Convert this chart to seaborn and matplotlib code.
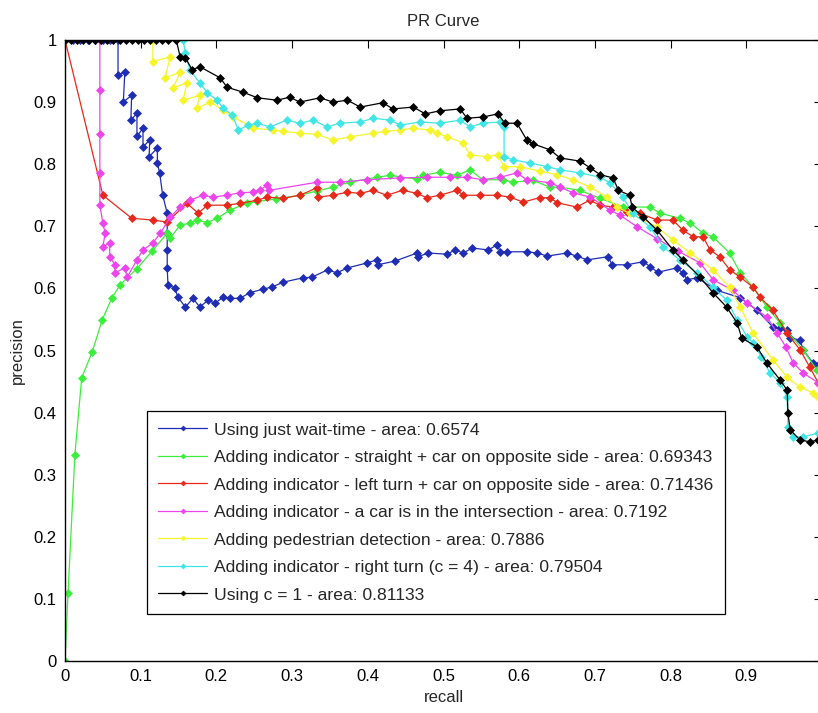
import matplotlib
matplotlib.use("Agg")
import matplotlib.pyplot as plt
import seaborn as sns

# (recall, precision) points
wait_time = [
    (0, 1), (0.01, 1), (0.02, 1), (0.03, 1), (0.04, 1), (0.05, 1), (0.06, 1), (0.07, 1),
    (0.070, 0.944), (0.079, 0.948), (0.077, 0.900), (0.088, 0.911), (0.087, 0.871),
    (0.095, 0.882), (0.095, 0.845), (0.103, 0.858), (0.103, 0.828), (0.112, 0.839),
    (0.111, 0.812), (0.122, 0.826), (0.122, 0.802), (0.125, 0.786), (0.129, 0.750),
    (0.135, 0.721), (0.135, 0.689), (0.135, 0.662), (0.135, 0.633), (0.136, 0.605),
    (0.145, 0.601), (0.149, 0.586), (0.159, 0.570), (0.169, 0.584), (0.178, 0.570),
    (0.189, 0.581), (0.198, 0.576), (0.209, 0.586), (0.218, 0.584), (0.231, 0.584),
    (0.244, 0.593), (0.262, 0.599), (0.273, 0.602), (0.288, 0.610), (0.314, 0.617),
    (0.326, 0.618), (0.347, 0.630), (0.359, 0.625), (0.373, 0.633), (0.399, 0.641),
    (0.412, 0.646), (0.413, 0.638), (0.436, 0.644), (0.465, 0.657), (0.466, 0.651),
    (0.480, 0.657), (0.505, 0.655), (0.515, 0.662), (0.526, 0.657), (0.538, 0.665),
    (0.559, 0.662), (0.571, 0.670), (0.575, 0.659), (0.584, 0.659), (0.610, 0.659),
    (0.624, 0.657), (0.637, 0.652), (0.663, 0.657), (0.676, 0.652), (0.690, 0.646),
    (0.717, 0.651), (0.723, 0.638), (0.742, 0.638), (0.764, 0.643), (0.773, 0.635),
    (0.783, 0.626), (0.808, 0.633), (0.816, 0.625), (0.822, 0.614), (0.835, 0.617),
    (0.861, 0.597), (0.892, 0.585), (0.914, 0.565), (0.935, 0.538), (0.945, 0.536),
    (0.954, 0.533), (0.958, 0.520), (0.971, 0.517), (0.975, 0.501), (0.988, 0.480),
    (0.995, 0.477),
]

straight = [
    (0, 0), (0.004, 0.11), (0.013, 0.332), (0.022, 0.456), (0.036, 0.498), (0.049, 0.549),
    (0.062, 0.585), (0.073, 0.606), (0.095, 0.632), (0.115, 0.660), (0.135, 0.689),
    (0.139, 0.681), (0.152, 0.702), (0.165, 0.705), (0.174, 0.710), (0.188, 0.706),
    (0.201, 0.713), (0.218, 0.726), (0.240, 0.737), (0.254, 0.740), (0.279, 0.744),
    (0.310, 0.750), (0.333, 0.757), (0.354, 0.763), (0.376, 0.771), (0.412, 0.779),
    (0.429, 0.782), (0.465, 0.776), (0.473, 0.782), (0.495, 0.787), (0.518, 0.782),
    (0.535, 0.791), (0.552, 0.775), (0.579, 0.775), (0.592, 0.771), (0.618, 0.774),
    (0.641, 0.763), (0.654, 0.763), (0.680, 0.758), (0.707, 0.745), (0.737, 0.731),
    (0.773, 0.731), (0.786, 0.721), (0.812, 0.713), (0.826, 0.705), (0.843, 0.689),
    (0.856, 0.683), (0.878, 0.657), (0.892, 0.625), (0.909, 0.602), (0.927, 0.570),
    (0.945, 0.544), (0.975, 0.501), (0.993, 0.469),
]

left_turn = [
    (0, 1), (0.050, 0.750), (0.088, 0.713), (0.116, 0.710), (0.135, 0.707), (0.161, 0.737),
    (0.176, 0.721), (0.188, 0.734), (0.214, 0.734), (0.231, 0.737), (0.254, 0.742),
    (0.267, 0.747), (0.288, 0.745), (0.310, 0.750), (0.333, 0.762), (0.334, 0.747),
    (0.354, 0.750), (0.373, 0.755), (0.390, 0.753), (0.407, 0.758), (0.425, 0.750),
    (0.446, 0.758), (0.465, 0.753), (0.478, 0.746), (0.495, 0.750), (0.518, 0.758),
    (0.526, 0.750), (0.548, 0.750), (0.571, 0.750), (0.588, 0.747), (0.605, 0.739),
    (0.627, 0.746), (0.641, 0.746), (0.650, 0.738), (0.676, 0.731), (0.693, 0.742),
    (0.707, 0.734), (0.724, 0.731), (0.742, 0.723), (0.760, 0.721), (0.782, 0.710),
    (0.803, 0.710), (0.816, 0.694), (0.830, 0.683), (0.843, 0.683), (0.852, 0.662),
    (0.865, 0.651), (0.878, 0.630), (0.892, 0.618), (0.909, 0.602), (0.918, 0.586),
    (0.935, 0.565), (0.954, 0.528), (0.971, 0.501), (0.984, 0.473), (0.995, 0.448),
]

intersection = [
    (0, 1), (0.046, 1.0), (0.046, 0.919), (0.046, 0.848), (0.046, 0.786), (0.046, 0.734),
    (0.050, 0.705), (0.053, 0.689), (0.050, 0.667), (0.059, 0.673), (0.059, 0.651),
    (0.066, 0.638), (0.066, 0.625), (0.079, 0.633), (0.082, 0.618), (0.095, 0.646),
    (0.103, 0.662), (0.116, 0.673), (0.126, 0.689), (0.139, 0.715), (0.152, 0.731),
    (0.165, 0.742), (0.182, 0.750), (0.195, 0.747), (0.214, 0.750), (0.231, 0.754),
    (0.248, 0.755), (0.258, 0.758), (0.267, 0.767), (0.270, 0.758), (0.333, 0.771),
    (0.363, 0.771), (0.399, 0.775), (0.443, 0.778), (0.478, 0.779), (0.509, 0.779),
    (0.531, 0.779), (0.552, 0.775), (0.575, 0.779), (0.597, 0.786), (0.610, 0.775),
    (0.641, 0.770), (0.654, 0.763), (0.671, 0.754), (0.694, 0.747), (0.720, 0.726),
    (0.733, 0.718), (0.756, 0.699), (0.782, 0.680), (0.810, 0.660), (0.839, 0.641),
    (0.856, 0.614), (0.882, 0.597), (0.901, 0.576), (0.927, 0.554), (0.941, 0.528),
    (0.952, 0.506), (0.962, 0.480), (0.975, 0.464), (0.995, 0.448),
]

pedestrian = [
    (0, 1), (0.116, 1.0), (0.116, 0.965), (0.139, 0.973), (0.132, 0.939), (0.152, 0.948),
    (0.143, 0.923), (0.161, 0.931), (0.156, 0.903), (0.178, 0.911), (0.174, 0.890),
    (0.192, 0.900), (0.209, 0.887), (0.222, 0.876), (0.242, 0.863), (0.248, 0.858),
    (0.275, 0.855), (0.288, 0.853), (0.310, 0.850), (0.333, 0.848), (0.354, 0.839),
    (0.376, 0.844), (0.407, 0.850), (0.423, 0.853), (0.442, 0.855), (0.460, 0.858),
    (0.482, 0.855), (0.491, 0.850), (0.505, 0.844), (0.526, 0.834), (0.535, 0.815),
    (0.557, 0.812), (0.572, 0.815), (0.580, 0.796), (0.601, 0.796), (0.627, 0.789),
    (0.650, 0.783), (0.671, 0.775), (0.694, 0.763), (0.716, 0.747), (0.729, 0.731),
    (0.746, 0.721), (0.782, 0.699), (0.803, 0.678), (0.826, 0.657), (0.856, 0.630),
    (0.878, 0.602), (0.892, 0.570), (0.909, 0.528), (0.935, 0.485), (0.954, 0.457),
    (0.971, 0.441), (0.988, 0.432), (0.995, 0.425),
]

right_turn = [
    (0, 1), (0.156, 1.0), (0.159, 0.979), (0.165, 0.952), (0.178, 0.931), (0.188, 0.915),
    (0.201, 0.903), (0.209, 0.890), (0.221, 0.879), (0.229, 0.855), (0.242, 0.863),
    (0.254, 0.866), (0.271, 0.860), (0.293, 0.871), (0.310, 0.866), (0.328, 0.871),
    (0.346, 0.860), (0.363, 0.866), (0.390, 0.868), (0.407, 0.874), (0.429, 0.871),
    (0.443, 0.863), (0.469, 0.868), (0.495, 0.866), (0.522, 0.871), (0.535, 0.860),
    (0.552, 0.866), (0.575, 0.868), (0.580, 0.860), (0.580, 0.812), (0.592, 0.807),
    (0.614, 0.802), (0.637, 0.796), (0.654, 0.791), (0.680, 0.786), (0.707, 0.779),
    (0.720, 0.770), (0.737, 0.747), (0.750, 0.721), (0.773, 0.699), (0.790, 0.667),
    (0.812, 0.646), (0.835, 0.625), (0.856, 0.602), (0.874, 0.581), (0.888, 0.549),
    (0.901, 0.522), (0.909, 0.512), (0.920, 0.490), (0.931, 0.464), (0.945, 0.448),
    (0.954, 0.425), (0.955, 0.377), (0.962, 0.361), (0.975, 0.361), (0.995, 0.367),
]

c_one = [
    (0, 1), (0.008, 1), (0.016, 1), (0.024, 1), (0.032, 1), (0.040, 1), (0.048, 1),
    (0.056, 1), (0.064, 1), (0.072, 1), (0.080, 1), (0.088, 1), (0.096, 1), (0.104, 1),
    (0.112, 1), (0.120, 1), (0.128, 1), (0.136, 1), (0.147, 1),
    (0.152, 0.973), (0.159, 0.971), (0.168, 0.952), (0.178, 0.957), (0.205, 0.939),
    (0.214, 0.924), (0.235, 0.916), (0.254, 0.907), (0.280, 0.903), (0.297, 0.908),
    (0.310, 0.900), (0.337, 0.907), (0.354, 0.900), (0.373, 0.903), (0.390, 0.892),
    (0.420, 0.899), (0.433, 0.889), (0.460, 0.892), (0.476, 0.881), (0.495, 0.886),
    (0.522, 0.889), (0.531, 0.874), (0.552, 0.876), (0.572, 0.881), (0.581, 0.866),
    (0.597, 0.866), (0.610, 0.839), (0.618, 0.833), (0.641, 0.823), (0.654, 0.810),
    (0.680, 0.805), (0.694, 0.794), (0.707, 0.783), (0.724, 0.778), (0.731, 0.758),
    (0.746, 0.750), (0.749, 0.731), (0.764, 0.715), (0.782, 0.694), (0.803, 0.662),
    (0.816, 0.646), (0.839, 0.618), (0.856, 0.593), (0.874, 0.570), (0.888, 0.544),
    (0.894, 0.520), (0.914, 0.506), (0.927, 0.480), (0.945, 0.452), (0.954, 0.436),
    (0.955, 0.399), (0.958, 0.372), (0.971, 0.356), (0.984, 0.353), (0.995, 0.356),
]

labels = [
    "Using just wait-time - area: 0.6574",
    "Adding indicator - straight + car on opposite side - area: 0.69343",
    "Adding indicator - left turn + car on opposite side - area: 0.71436",
    "Adding indicator - a car is in the intersection - area: 0.7192",
    "Adding pedestrian detection - area: 0.7886",
    "Adding indicator - right turn (c = 4) - area: 0.79504",
    "Using c = 1 - area: 0.81133",
]
curves = [wait_time, straight, left_turn, intersection, pedestrian, right_turn, c_one]
colors = ["#1f2db5", "#3cee3c", "#e8281a", "#ee44ee", "#f5f52a", "#40e6e6", "#000000"]

ticks = [0, 0.1, 0.2, 0.3, 0.4, 0.5, 0.6, 0.7, 0.8, 0.9, 1]
y_tick_labels = ["0", "0.1", "0.2", "0.3", "0.4", "0.5", "0.6", "0.7", "0.8", "0.9", "1"]
# the "1" under the right edge is cropped away in the original
x_tick_labels = ["0", "0.1", "0.2", "0.3", "0.4", "0.5", "0.6", "0.7", "0.8", "0.9", ""]

sns.set_style("white")
plt.rcParams['font.family'] = ['Liberation Sans', 'DejaVu Sans']
plt.rcParams['font.size'] = 12

fig = plt.figure(figsize=(8.18, 7.13), dpi=100)
# axes run slightly past the right edge, like the cropped original
ax = fig.add_axes([0.0795, 0.0729, 0.9254, 0.871])

for pts, color, label in zip(curves, colors, labels):
    rec = [p[0] for p in pts]
    prec = [p[1] for p in pts]
    sns.lineplot(x=rec, y=prec, sort=False, estimator=None, color=color,
                 linewidth=0.9, marker='D', markersize=4.5, markeredgewidth=0.5,
                 markeredgecolor=color, label=label, ax=ax)

ax.set_xlim(0, 1)
ax.set_ylim(0, 1)
ax.set_xticks(ticks)
ax.set_xticklabels(x_tick_labels)
ax.set_yticks(ticks)
ax.set_yticklabels(y_tick_labels)
ax.tick_params(direction='in', length=6, width=0.8, top=True, right=True,
               labelsize=12, pad=6, colors='black')
for spine in ax.spines.values():
    spine.set_color('black')
    spine.set_linewidth(1.0)

ax.set_title("PR Curve", fontsize=12, pad=10)
ax.set_xlabel("recall", fontsize=12, labelpad=4)
ax.set_ylabel("precision", fontsize=12, labelpad=6)

leg = ax.legend(loc='upper left', bbox_to_anchor=(0.108, 0.4026), borderaxespad=0,
                fancybox=False, framealpha=1, edgecolor='black', fontsize=12.6,
                handlelength=2.8, handletextpad=0.4, borderpad=0.65, labelspacing=0.7,
                markerscale=0.55)
leg.get_frame().set_linewidth(0.9)

fig.savefig("out.png", dpi=100)
